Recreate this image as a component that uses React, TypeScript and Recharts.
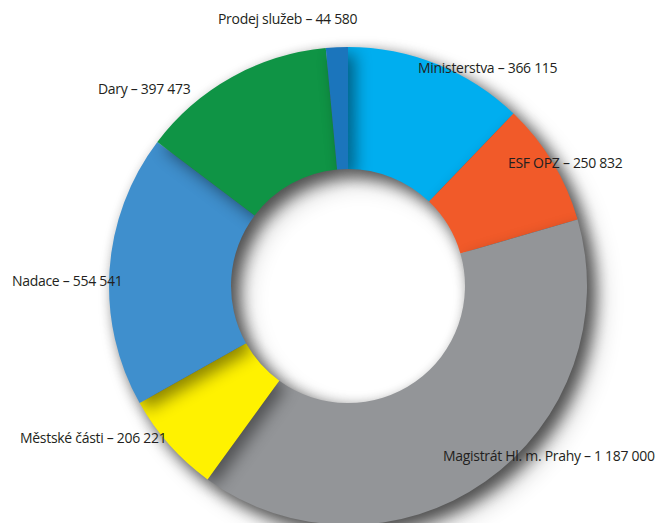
import { PieChart, Pie, Cell } from 'recharts';

const NAMES = [
  'Ministerstva',
  'ESF OPZ',
  'Magistrát Hl. m. Prahy',
  'Městské části',
  'Nadace',
  'Dary',
  'Prodej služeb',
];
const VALUES = [366115, 250832, 1187000, 206221, 554541, 397473, 44580];
const COLORS = ['#00AEEF', '#F15A29', '#939598', '#FFF200', '#3F8FCD', '#0F9445', '#1B75BC'];

// label anchor (left edge, vertical middle) relative to the pie centre
const LABEL_POS = [
  [70, -219],
  [160, -124],
  [95, 169],
  [-328, 151],
  [-336, -6],
  [-250, -198],
  [-130, -268],
];

const data = NAMES.map((name, i) => ({ name, value: VALUES[i] }));

const fmt = (v: number) => v.toLocaleString('en-US').replace(/,/g, ' ');

const renderLabel = ({ cx, cy, index }: any) => {
  const [dx, dy] = LABEL_POS[index];
  return (
    <text
      x={cx + dx}
      y={cy + dy}
      fill="#231F20"
      fontSize={14}
      letterSpacing={-0.3}
      fontFamily="'Open Sans', sans-serif"
      textAnchor="start"
      dominantBaseline="central"
    >
      {`${NAMES[index]} – ${fmt(VALUES[index])}`}
    </text>
  );
};

export default function App() {
  return (
    <div style={{ position: 'absolute', left: 0, top: 0, width: 661, height: 523, background: '#fff' }}>
      <style>{`.ring { filter: drop-shadow(7px 7px 8px rgba(0,0,0,0.45)); }`}</style>
      <PieChart width={661} height={523} margin={{ top: 0, right: 0, bottom: 0, left: 0 }}>
        <Pie
          className="ring"
          data={data}
          dataKey="value"
          cx={348}
          cy={286}
          innerRadius={117}
          outerRadius={239}
          startAngle={90}
          endAngle={-270}
          stroke="none"
          isAnimationActive={false}
        >
          {data.map((entry, index) => (
            <Cell key={`cell-${index}`} fill={COLORS[index]} />
          ))}
        </Pie>
        <Pie
          data={data}
          dataKey="value"
          cx={348}
          cy={286}
          innerRadius={117}
          outerRadius={239}
          startAngle={90}
          endAngle={-270}
          fill="none"
          stroke="none"
          label={renderLabel}
          labelLine={false}
          isAnimationActive={false}
        />
      </PieChart>
    </div>
  );
}
